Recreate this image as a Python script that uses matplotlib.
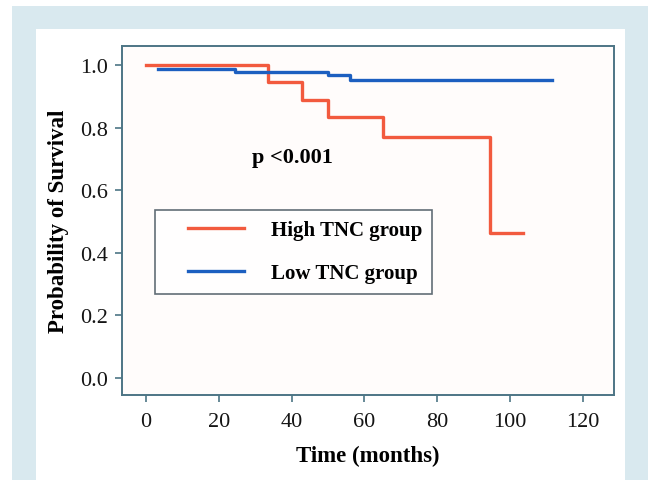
import numpy as np
import matplotlib.pyplot as plt
from matplotlib.patches import Rectangle
from matplotlib.lines import Line2D
from matplotlib.legend_handler import HandlerLine2D

# survival step data (months, probability)
high_t = [0, 33.5, 42.8, 50, 65, 94.5, 103.5]
high_s = [1.0, 0.945, 0.889, 0.834, 0.771, 0.463, 0.463]
low_t = [3.3, 24.5, 50, 56, 111.5]
low_s = [0.989, 0.979, 0.967, 0.953, 0.953]

x_ticks = [0, 20, 40, 60, 80, 100, 120]
y_ticks = [0.0, 0.2, 0.4, 0.6, 0.8, 1.0]

RED = '#f25a3e'
BLUE = '#1c5fc0'
AXC = '#4d7585'
FONT = 'Liberation Serif'

fig = plt.figure(figsize=(6.48, 4.81), dpi=100)
W, H = 648, 481
# background frame and white panel
fig.patches.append(Rectangle((12 / W, 0), 1 - 12 / W, 1 - 7 / H, transform=fig.transFigure,
                             facecolor='#d9e9ef', edgecolor='none', zorder=-2))
fig.patches.append(Rectangle((36 / W, 0), (625 - 36) / W, 1 - 30 / H, transform=fig.transFigure,
                             facecolor='white', edgecolor='none', zorder=-1))

ax = fig.add_axes([122 / W, 1 - 396 / H, (614 - 122) / W, (396 - 47) / H])
ax.set_facecolor('#fffcfb')

ax.step(high_t, high_s, where='post', color=RED, lw=2.4, label='High TNC group')
ax.step(low_t, low_s, where='post', color=BLUE, lw=2.4, label='Low TNC group')

ax.set_xlim(-6.6, 128.6)
ax.set_ylim(-0.054, 1.061)
ax.set_xticks(x_ticks)
ax.set_yticks(y_ticks)
ax.set_xticklabels([str(v) for v in x_ticks], family=FONT, fontsize=16)
ax.set_yticklabels(['%.1f' % v for v in y_ticks], family=FONT, fontsize=16)
ax.tick_params(direction='out', length=5, width=1.2, color=AXC, labelcolor='#151515')
ax.tick_params(axis='x', pad=7)
ax.tick_params(axis='y', pad=5)
for s in ax.spines.values():
    s.set_color(AXC)
    s.set_linewidth(1.4)

ax.set_xlabel('Time (months)', family=FONT, fontweight='bold', fontsize=16.5, labelpad=10)
ax.set_ylabel('Probability of Survival', family=FONT, fontweight='bold', fontsize=16.5, labelpad=8)

ax.text(29, 0.706, 'p <0.001', family=FONT, fontweight='bold', fontsize=16,
        va='center', ha='left')

leg = ax.legend(loc='upper left', bbox_to_anchor=((155 - 122) / 492, (396 - 211) / 349),
                frameon=True, fancybox=False, prop={'family': FONT, 'weight': 'bold', 'size': 15},
                handlelength=3.75, handletextpad=1.3, borderpad=0.5, labelspacing=1.1,
                borderaxespad=0, handler_map={Line2D: HandlerLine2D(xpad=1.1)})
leg.get_frame().set_edgecolor('#3a4a55')
leg.get_frame().set_linewidth(1.2)

fig.savefig('out.png', dpi=100)
